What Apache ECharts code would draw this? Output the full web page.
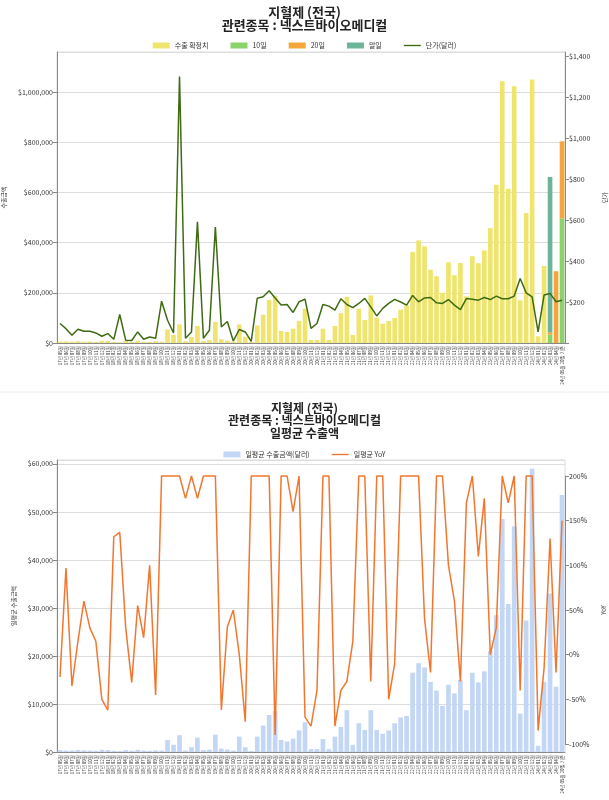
<!DOCTYPE html>
<html>
<head>
<meta charset="utf-8">
<script src="https://cdn.jsdelivr.net/npm/echarts@6/dist/echarts.min.js"></script>
<style>
  html, body { margin: 0; padding: 0; background: #fff; }
  #chart { width: 609px; height: 800px; }
</style>
</head>
<body>
<div id="chart"></div>
<script>
// 월별 카테고리 (x축)
const months = [
  '17년 05월','17년 06월','17년 07월','17년 08월','17년 09월','17년 10월','17년 11월','17년 12월',
  '18년 01월','18년 02월','18년 03월','18년 04월','18년 05월','18년 06월','18년 07월','18년 08월','18년 09월','18년 10월','18년 11월','18년 12월',
  '19년 01월','19년 02월','19년 03월','19년 04월','19년 05월','19년 06월','19년 07월','19년 08월','19년 09월','19년 10월','19년 11월','19년 12월',
  '20년 01월','20년 02월','20년 03월','20년 04월','20년 05월','20년 06월','20년 07월','20년 08월','20년 09월','20년 10월','20년 11월','20년 12월',
  '21년 01월','21년 02월','21년 03월','21년 04월','21년 05월','21년 06월','21년 07월','21년 08월','21년 09월','21년 10월','21년 11월','21년 12월',
  '22년 01월','22년 02월','22년 03월','22년 04월','22년 05월','22년 06월','22년 07월','22년 08월','22년 09월','22년 10월','22년 11월','22년 12월',
  '23년 01월','23년 02월','23년 03월','23년 04월','23년 05월','23년 06월','23년 07월','23년 08월','23년 09월','23년 10월','23년 11월','23년 12월',
  '24년 01월','24년 02월','24년 03월','24년 04월','24년 05월 20일 기준'
];

// 수출 확정치 (달러)
const confirmed = [
  5000, 6000, 5000, 7000, 5000, 6000, 4000, 9000, 8000, 4000, 3000, 8000, 4000, 9000, 5000, 4000, 7000, 5000,
  54000, 32000, 74000, 7000, 24000, 68000, 8000, 11000, 84000, 15000, 10000, 6000,
  74000, 25000, 4000, 70000, 113000, 172000, 187000, 48000, 44000, 57000, 88000, 137000,
  12000, 12000, 57000, 12000, 68000, 119000, 184000, 32000, 137000, 92000, 190000, 101000,
  77000, 88000, 100000, 133000, 150000, 363000, 409000, 385000, 292000, 266000, 200000, 322000,
  270000, 319000, 186000, 346000, 318000, 369000, 458000, 631000, 1043000, 615000, 1023000, 170000,
  518000, 1050000, 27000, 307000, 0, 0, 0
];
// 잠정치 (10일 / 20일 / 말일)
const day10 = [
  0, 0, 0, 0, 0, 0, 0, 0, 0, 0,
  0, 0, 0, 0, 0, 0, 0, 0, 0, 0,
  0, 0, 0, 0, 0, 0, 0, 0, 0, 0,
  0, 0, 0, 0, 0, 0, 0, 0, 0, 0,
  0, 0, 0, 0, 0, 0, 0, 0, 0, 0,
  0, 0, 0, 0, 0, 0, 0, 0, 0, 0,
  0, 0, 0, 0, 0, 0, 0, 0, 0, 0,
  0, 0, 0, 0, 0, 0, 0, 0, 0, 0,
  0, 0, 33000, 0, 496000
];
const day20 = [
  0, 0, 0, 0, 0, 0, 0, 0, 0, 0,
  0, 0, 0, 0, 0, 0, 0, 0, 0, 0,
  0, 0, 0, 0, 0, 0, 0, 0, 0, 0,
  0, 0, 0, 0, 0, 0, 0, 0, 0, 0,
  0, 0, 0, 0, 0, 0, 0, 0, 0, 0,
  0, 0, 0, 0, 0, 0, 0, 0, 0, 0,
  0, 0, 0, 0, 0, 0, 0, 0, 0, 0,
  0, 0, 0, 0, 0, 0, 0, 0, 0, 0,
  0, 0, 10000, 286000, 308000
];
const monthEnd = [
  0, 0, 0, 0, 0, 0, 0, 0, 0, 0,
  0, 0, 0, 0, 0, 0, 0, 0, 0, 0,
  0, 0, 0, 0, 0, 0, 0, 0, 0, 0,
  0, 0, 0, 0, 0, 0, 0, 0, 0, 0,
  0, 0, 0, 0, 0, 0, 0, 0, 0, 0,
  0, 0, 0, 0, 0, 0, 0, 0, 0, 0,
  0, 0, 0, 0, 0, 0, 0, 0, 0, 0,
  0, 0, 0, 0, 0, 0, 0, 0, 0, 0,
  0, 0, 619000, 0, 0
];
// 단가 (달러)
const unitPrice = [
  95, 70, 38, 67, 57, 57, 49, 33, 46, 18, 139, 13, 12, 54, 18, 29, 23, 204,
  111, 49, 1300, 23, 54, 591, 23, 62, 566, 78, 105, 10,
  66, 54, 8, 218, 226, 255, 220, 185, 188, 149, 201, 214,
  71, 95, 188, 180, 160, 216, 188, 173, 193, 218, 176, 132,
  169, 193, 213, 200, 185, 232, 201, 220, 222, 196, 193, 212,
  185, 163, 217, 214, 209, 222, 212, 229, 216, 216, 229, 315,
  245, 225, 54, 234, 242, 201, 209
];

// 일평균 수출금액 (달러)
const dailyAvg = [
  400, 300, 300, 400, 350, 300, 250, 450, 400, 250, 200, 400, 250, 450, 300, 250, 350, 300,
  2500, 1500, 3500, 300, 1000, 3000, 400, 500, 3600, 700, 500, 300,
  3200, 1000, 200, 3200, 5500, 7700, 8500, 2500, 2200, 2800, 4500, 6200,
  600, 600, 2700, 600, 3200, 5200, 8700, 1500, 6000, 4600, 8700, 4600,
  3800, 4500, 6000, 7200, 7500, 16500, 18500, 17600, 14600, 12800, 9600, 14000,
  12200, 15000, 8700, 16500, 14500, 16800, 21000, 28500, 48500, 30800, 47000, 8000,
  27400, 59000, 1300, 14600, 33000, 13600, 53500
];
// 일평균 YoY (%)
const dailyYoy = [
  -25, 97, -35, 15, 60, 30, 15, -50, -62, 132, 137, 30, -31, 55, 19, 100, -45, 200,
  200, 200, 200, 175, 200, 175, 200, 200, 200, -62, 31, 50,
  0, -75, 200, 200, 200, 200, -90, 200, 200, 160, 200, -70,
  -80, -40, 200, 200, -80, -40, -30, 15, 200, 200, -30, 200,
  200, -50, -10, 200, 200, 200, 200, 40, -20, 200, 200, 100,
  60, -30, 170, 200, 110, 175, 0, 30, 200, 170, 200, -40,
  200, 200, -85, -15, 130, -20, 150
];

const FONT = 'Noto Sans CJK KR';
const money = v => '$' + Math.round(v).toLocaleString('en-US');
const LINE_ICON = 'path://M0,0L20,0L20,1.6L0,1.6Z';

const chart = echarts.init(document.getElementById('chart'));

const xCommon = {
  type: 'category',
  data: months,
  boundaryGap: true,
  axisLine: { lineStyle: { color: '#888' } },
  axisTick: { length: 3, interval: 0, lineStyle: { color: '#888' } },
  axisLabel: { rotate: 90, interval: 0, fontSize: 4.5, color: '#333', margin: 3, fontFamily: FONT }
};
const yLabel = { fontSize: 7, color: '#333', fontFamily: FONT, margin: 4 };
const yName = { fontSize: 6, color: '#333', fontFamily: FONT };

const option = {
  animation: false,
  backgroundColor: '#fff',
  textStyle: { fontFamily: FONT },
  title: [{
    text: '지혈제 (전국)\n관련종목 : 넥스트바이오메디컬',
    left: 'center', top: 0,
    textStyle: { fontSize: 13, fontWeight: 'bold', color: '#222', lineHeight: 13.5, fontFamily: FONT }
  }, {
    text: '지혈제 (전국)\n관련종목 : 넥스트바이오메디컬\n일평균 수출액',
    left: 'center', top: 397,
    textStyle: { fontSize: 12, fontWeight: 'bold', color: '#222', lineHeight: 12.5, fontFamily: FONT }
  }],
  legend: [{
    top: 37, left: 'center',
    itemWidth: 17, itemHeight: 6, itemGap: 22,
    textStyle: { fontSize: 7, color: '#333', fontFamily: FONT },
    data: [
      { name: '수출 확정치', icon: 'rect' },
      { name: '10일', icon: 'rect' },
      { name: '20일', icon: 'rect' },
      { name: '말일', icon: 'rect' },
      { name: '단가(달러)', icon: LINE_ICON }
    ]
  }, {
    top: 446, left: 'center',
    itemWidth: 17, itemHeight: 6, itemGap: 22,
    textStyle: { fontSize: 7, color: '#333', fontFamily: FONT },
    data: [
      { name: '일평균 수출금액(달러)', icon: 'rect' },
      { name: '일평균 YoY', icon: LINE_ICON }
    ]
  }],
  graphic: [{
    type: 'line', shape: { x1: 0, y1: 392, x2: 609, y2: 392 },
    style: { stroke: '#eee', lineWidth: 1 }
  }],
  grid: [
    { left: 57, right: 44, top: 52, bottom: 457, show: true, borderColor: '#ddd', borderWidth: 1,
      containLabel: false, outerBoundsMode: 'none' },
    { left: 57, right: 44, top: 460, bottom: 48, show: true, borderColor: '#ddd', borderWidth: 1,
      containLabel: false, outerBoundsMode: 'none' },
    { left: 57, right: 44, top: 476, bottom: 56, containLabel: false, outerBoundsMode: 'none' }
  ],
  xAxis: [
    Object.assign({ gridIndex: 0 }, xCommon),
    Object.assign({ gridIndex: 1 }, xCommon),
    { type: 'category', data: months, gridIndex: 2, show: false, boundaryGap: true }
  ],
  yAxis: [{
    gridIndex: 0, type: 'value', min: 0, max: 1160000, interval: 200000,
    name: '수출금액', nameLocation: 'middle', nameGap: 46, nameTextStyle: yName,
    axisLine: { show: true, lineStyle: { color: '#888' } },
    axisTick: { show: true, length: 4, lineStyle: { color: '#888' } },
    axisLabel: Object.assign({ formatter: money, showMaxLabel: false }, yLabel),
    splitLine: { lineStyle: { color: '#ddd' } }
  }, {
    gridIndex: 0, type: 'value', position: 'right', min: 0, max: 1420, interval: 200,
    name: '단가', nameLocation: 'middle', nameGap: 32, nameTextStyle: yName,
    axisLine: { show: true, lineStyle: { color: '#888' } },
    axisTick: { show: true, length: 4, lineStyle: { color: '#888' } },
    axisLabel: Object.assign({
      formatter: v => (v === 0 ? '' : money(v)), showMaxLabel: false
    }, yLabel),
    splitLine: { show: false }
  }, {
    gridIndex: 1, type: 'value', min: 0, max: 60800, interval: 10000,
    name: '일평균 수출금액', nameLocation: 'middle', nameGap: 38, nameTextStyle: yName,
    axisLine: { show: true, lineStyle: { color: '#888' } },
    axisTick: { show: true, length: 4, lineStyle: { color: '#888' } },
    axisLabel: Object.assign({ formatter: money, showMaxLabel: false }, yLabel),
    splitLine: { lineStyle: { color: '#ddd' } }
  }, {
    gridIndex: 2, type: 'value', position: 'right', min: -100, max: 200, interval: 50,
    name: 'YoY', nameLocation: 'middle', nameGap: 32, nameTextStyle: yName,
    axisLine: { show: true, lineStyle: { color: '#888' } },
    axisTick: { show: true, length: 4, lineStyle: { color: '#888' } },
    axisLabel: Object.assign({ formatter: '{value}%' }, yLabel),
    splitLine: { show: false }
  }],
  series: [{
    name: '수출 확정치', type: 'bar', stack: 'ex', xAxisIndex: 0, yAxisIndex: 0,
    barCategoryGap: '22%', itemStyle: { color: '#efe56e' }, data: confirmed
  }, {
    name: '10일', type: 'bar', stack: 'ex', xAxisIndex: 0, yAxisIndex: 0,
    itemStyle: { color: '#8ad36a' }, data: day10
  }, {
    name: '20일', type: 'bar', stack: 'ex', xAxisIndex: 0, yAxisIndex: 0,
    itemStyle: { color: '#f4a63a' }, data: day20
  }, {
    name: '말일', type: 'bar', stack: 'ex', xAxisIndex: 0, yAxisIndex: 0,
    itemStyle: { color: '#6db598' }, data: monthEnd
  }, {
    name: '단가(달러)', type: 'line', xAxisIndex: 0, yAxisIndex: 1,
    symbol: 'none', lineStyle: { color: '#3e6b12', width: 1.5 }, itemStyle: { color: '#3e6b12' },
    data: unitPrice
  }, {
    name: '일평균 수출금액(달러)', type: 'bar', xAxisIndex: 1, yAxisIndex: 2,
    barCategoryGap: '22%', itemStyle: { color: '#c3d7f5' }, data: dailyAvg
  }, {
    name: '일평균 YoY', type: 'line', xAxisIndex: 2, yAxisIndex: 3, clip: false,
    symbol: 'none', lineStyle: { color: '#f2762e', width: 1.5 }, itemStyle: { color: '#f2762e' },
    data: dailyYoy
  }]
};

chart.setOption(option);
</script>
</body>
</html>
